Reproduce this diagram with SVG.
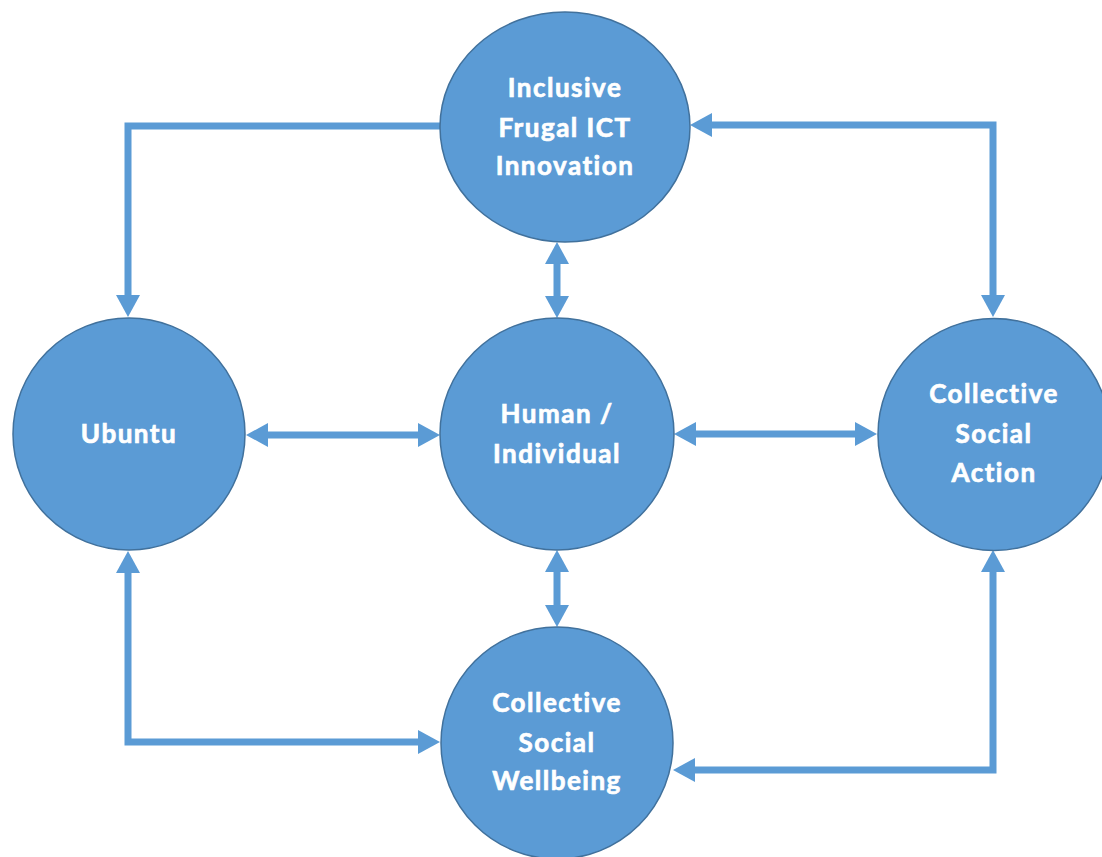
<svg xmlns="http://www.w3.org/2000/svg" width="1102" height="857" viewBox="0 0 1102 857">
  <style>
    .node { fill: #5B9BD5; stroke: #41719C; stroke-width: 1.5; }
    .label { font-family: Lato, "Open Sans", "Liberation Sans", sans-serif; font-weight: bold; font-size: 26px; letter-spacing: 1.5px; font-variant-ligatures: none; fill: #FFFFFF; stroke: #FFFFFF; stroke-width: 0.7; text-anchor: middle; }
    .conn { fill: none; stroke: #5B9BD5; stroke-width: 7; stroke-linejoin: miter; }
  </style>
  <defs>
    <marker id="ah" markerUnits="userSpaceOnUse" markerWidth="24" markerHeight="26" viewBox="0 0 24 26" refX="10" refY="13" orient="auto-start-reverse">
      <path d="M0,1 L22,13 L0,25 z" fill="#5B9BD5"/>
    </marker>
  </defs>
  <rect width="1102" height="857" fill="#FFFFFF"/>
  <g id="connectors">
    <path class="conn" d="M440,126 H128 V305" marker-end="url(#ah)"/>
    <path class="conn" d="M993,305 V125 H702" marker-start="url(#ah)" marker-end="url(#ah)"/>
    <path class="conn" d="M557,254 V306" marker-start="url(#ah)" marker-end="url(#ah)"/>
    <path class="conn" d="M258,435 H428" marker-start="url(#ah)" marker-end="url(#ah)"/>
    <path class="conn" d="M686,434 H865" marker-start="url(#ah)" marker-end="url(#ah)"/>
    <path class="conn" d="M557,562 V615" marker-start="url(#ah)" marker-end="url(#ah)"/>
    <path class="conn" d="M128,563 V742 H428" marker-start="url(#ah)" marker-end="url(#ah)"/>
    <path class="conn" d="M993,562 V770 H685" marker-start="url(#ah)" marker-end="url(#ah)"/>
  </g>
  <g id="node-inclusive">
    <ellipse class="node" cx="565" cy="127" rx="125" ry="115"/>
    <text class="label" x="565" y="97">Inclusive</text>
    <text class="label" x="565" y="137">Frugal ICT</text>
    <text class="label" x="565" y="175">Innovation</text>
  </g>
  <g id="node-ubuntu">
    <circle class="node" cx="129" cy="434" r="116"/>
    <text class="label" x="129" y="443">Ubuntu</text>
  </g>
  <g id="node-human">
    <ellipse class="node" cx="557" cy="434" rx="117" ry="116"/>
    <text class="label" x="557" y="423">Human /</text>
    <text class="label" x="557" y="463">Individual</text>
  </g>
  <g id="node-action">
    <circle class="node" cx="994" cy="434.5" r="116"/>
    <text class="label" x="994" y="403">Collective</text>
    <text class="label" x="994" y="443">Social</text>
    <text class="label" x="994" y="482">Action</text>
  </g>
  <g id="node-wellbeing">
    <circle class="node" cx="557" cy="743" r="116"/>
    <text class="label" x="557" y="712">Collective</text>
    <text class="label" x="557" y="752">Social</text>
    <text class="label" x="557" y="790">Wellbeing</text>
  </g>
</svg>
